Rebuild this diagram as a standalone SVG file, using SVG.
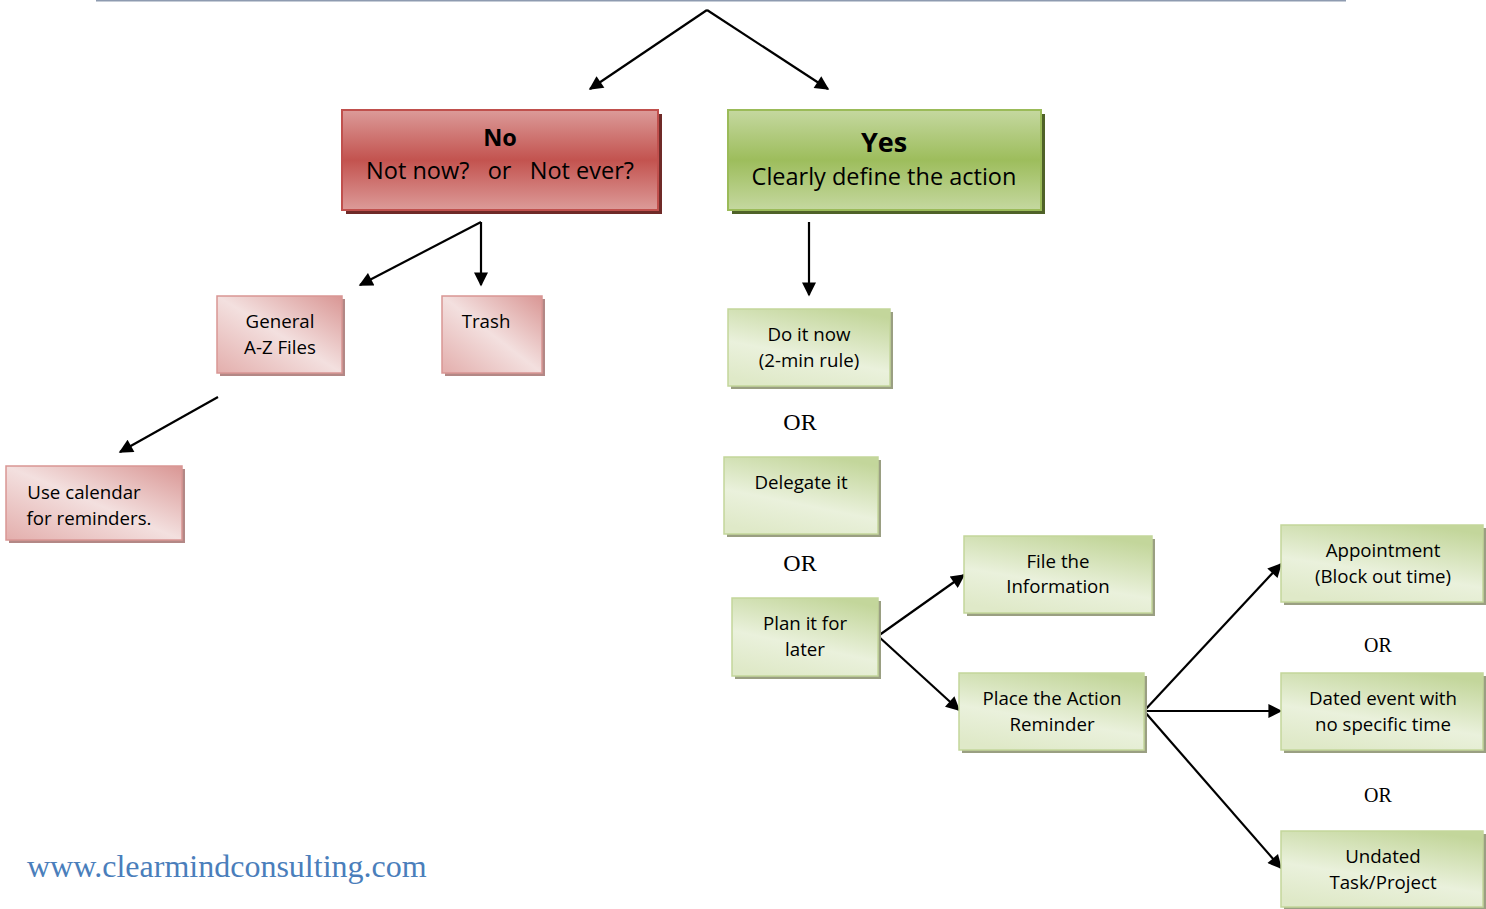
<svg xmlns="http://www.w3.org/2000/svg" width="1486" height="909" viewBox="0 0 1486 909">
<defs>
<linearGradient id="gRed" x1="0" y1="0" x2="0" y2="1">
<stop offset="0" stop-color="#dc9b99"/><stop offset="0.5" stop-color="#c3534f"/><stop offset="1" stop-color="#dc9b99"/>
</linearGradient>
<linearGradient id="gGreen" x1="0" y1="0" x2="0" y2="1">
<stop offset="0" stop-color="#c5d8a0"/><stop offset="0.5" stop-color="#9dbd5c"/><stop offset="1" stop-color="#c5d8a0"/>
</linearGradient>
<linearGradient id="gPink" x1="1" y1="0" x2="0" y2="1">
<stop offset="0" stop-color="#d99694"/><stop offset="0.5" stop-color="#f3e0df"/><stop offset="1" stop-color="#e3aeac"/>
</linearGradient>
<linearGradient id="gLime" x1="0.7" y1="0" x2="0.3" y2="1">
<stop offset="0" stop-color="#c3d69b"/><stop offset="0.6" stop-color="#eaf1dc"/><stop offset="1" stop-color="#dfe9c8"/>
</linearGradient>
<marker id="ah2" viewBox="0 0 10 10" refX="9" refY="5" markerWidth="16" markerHeight="14" markerUnits="userSpaceOnUse" orient="auto">
<path d="M0,0 L10,5 L0,10 z" fill="#000"/>
</marker>
</defs>
<style>
.t{font-family:"Open Sans","Liberation Sans",sans-serif;fill:#000;text-anchor:middle}
.s{font-size:18.7px}
.b{font-size:23.5px}
.or{font-family:"Liberation Serif",serif;text-anchor:middle;fill:#000}
.ln{stroke:#000;stroke-width:2.2;fill:none;marker-end:url(#ah2)}
.shR{fill:#6f2a28}
.shG{fill:#4f6228}
.shP{fill:#b38886}
.shL{fill:#9a9f82}
.bR{fill:url(#gRed);stroke:#c0504d;stroke-width:2}
.bG{fill:url(#gGreen);stroke:#9bbb59;stroke-width:2}
.bP{fill:url(#gPink);stroke:#d99694;stroke-width:1.5}
.bL{fill:url(#gLime);stroke:#c3d69b;stroke-width:1.5}
</style>
<rect x="0" y="0" width="1486" height="909" fill="#fff"/>
<line x1="96" y1="0.5" x2="1346" y2="0.5" stroke="#8e9bb0" stroke-width="2"/>

<g id="connectors">
<path class="ln" d="M707,10 L590,89"/>
<path class="ln" d="M707,10 L828,89"/>
<path class="ln" d="M481,222 L360,285"/>
<path class="ln" d="M481,222 L481,285"/>
<path class="ln" d="M809,222 L809,295"/>
<path class="ln" d="M218,397 L120,452"/>
<path class="ln" d="M878,636 L964,575"/>
<path class="ln" d="M878,636 L959,710"/>
<path class="ln" d="M1144,711 L1281,564"/>
<path class="ln" d="M1144,711 L1281,711"/>
<path class="ln" d="M1144,711 L1281,868"/>
</g>

<g id="no">
<rect class="shR" x="346" y="114" width="316" height="100"/>
<rect class="bR" x="342" y="110" width="316" height="100"/>
<text class="t b" x="500" y="146" font-weight="bold">No</text>
<text class="t b" x="500" y="179" xml:space="preserve">Not now?   or   Not ever?</text>
</g>
<g id="yes">
<rect class="shG" x="732" y="114" width="313" height="100"/>
<rect class="bG" x="728" y="110" width="313" height="100"/>
<text class="t" x="884" y="152" font-size="27" font-weight="bold">Yes</text>
<text class="t b" x="884" y="185">Clearly define the action</text>
</g>
<g id="general">
<rect class="shP" x="220" y="299" width="125" height="77"/>
<rect class="bP" x="217" y="296" width="125" height="77"/>
<text class="t s" x="280" y="328">General</text>
<text class="t s" x="280" y="354">A-Z Files</text>
</g>
<g id="trash">
<rect class="shP" x="445" y="299" width="100" height="77"/>
<rect class="bP" x="442" y="296" width="100" height="77"/>
<text class="t s" x="486" y="328">Trash</text>
</g>
<g id="calendar">
<rect class="shP" x="9" y="469" width="176" height="74"/>
<rect class="bP" x="6" y="466" width="176" height="74"/>
<text class="t s" x="84" y="499">Use calendar</text>
<text class="t s" x="89" y="525">for reminders.</text>
</g>
<g id="doitnow">
<rect class="shL" x="731" y="312" width="162" height="77"/>
<rect class="bL" x="728" y="309" width="162" height="77"/>
<text class="t s" x="809" y="341">Do it now</text>
<text class="t s" x="809" y="367">(2-min rule)</text>
</g>
<text class="or" x="800" y="430" font-size="24">OR</text>
<g id="delegate">
<rect class="shL" x="727" y="460" width="154" height="77"/>
<rect class="bL" x="724" y="457" width="154" height="77"/>
<text class="t s" x="801" y="489">Delegate it</text>
</g>
<text class="or" x="800" y="571" font-size="24">OR</text>
<g id="plan">
<rect class="shL" x="735" y="601" width="146" height="78"/>
<rect class="bL" x="732" y="598" width="146" height="78"/>
<text class="t s" x="805" y="630">Plan it for</text>
<text class="t s" x="805" y="656">later</text>
</g>
<g id="file">
<rect class="shL" x="967" y="539" width="188" height="77"/>
<rect class="bL" x="964" y="536" width="188" height="77"/>
<text class="t s" x="1058" y="568">File the</text>
<text class="t s" x="1058" y="593">Information</text>
</g>
<g id="place">
<rect class="shL" x="962" y="676" width="185" height="77"/>
<rect class="bL" x="959" y="673" width="185" height="77"/>
<text class="t s" x="1052" y="705">Place the Action</text>
<text class="t s" x="1052" y="731">Reminder</text>
</g>
<g id="appointment">
<rect class="shL" x="1284" y="528" width="202" height="77"/>
<rect class="bL" x="1281" y="525" width="202" height="77"/>
<text class="t s" x="1383" y="557">Appointment</text>
<text class="t s" x="1383" y="583">(Block out time)</text>
</g>
<text class="or" x="1378" y="652" font-size="20">OR</text>
<g id="dated">
<rect class="shL" x="1284" y="676" width="202" height="77"/>
<rect class="bL" x="1281" y="673" width="202" height="77"/>
<text class="t s" x="1383" y="705">Dated event with</text>
<text class="t s" x="1383" y="731">no specific time</text>
</g>
<text class="or" x="1378" y="802" font-size="20">OR</text>
<g id="undated">
<rect class="shL" x="1284" y="834" width="202" height="76"/>
<rect class="bL" x="1281" y="831" width="202" height="76"/>
<text class="t s" x="1383" y="863">Undated</text>
<text class="t s" x="1383" y="889">Task/Project</text>
</g>
<text x="27" y="877" font-family="Liberation Serif,serif" font-size="32" fill="#4a7ebb">www.clearmindconsulting.com</text>
</svg>
